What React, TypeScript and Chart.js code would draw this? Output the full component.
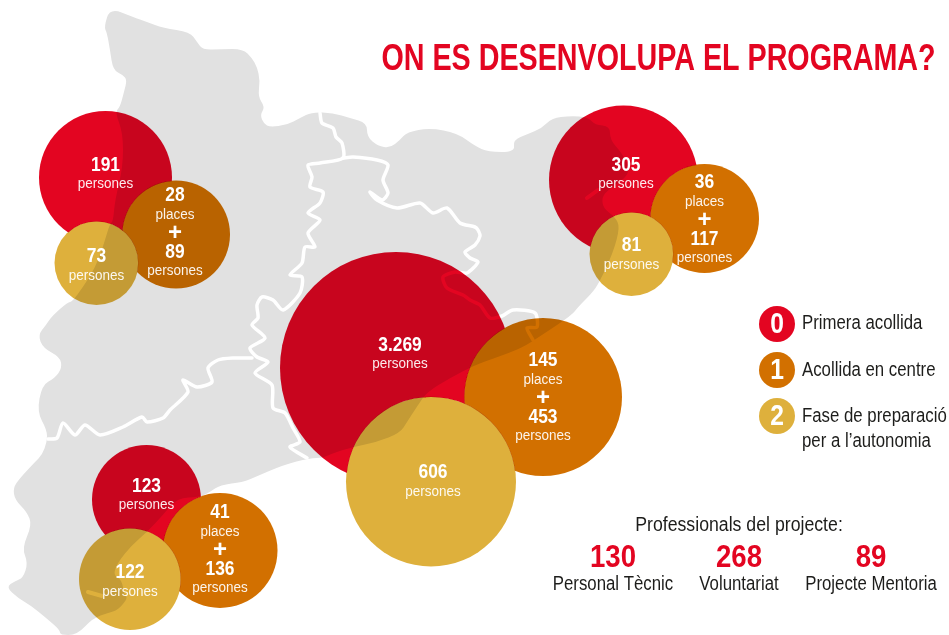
import React, { useEffect, useRef } from "react";
import { Chart, registerables } from "chart.js";

Chart.register(...registerables);

const titleText = "ON ES DESENVOLUPA EL PROGRAMA?";

// circles: [x, y, r] – the last of each list is the legend key
const firstReception = [[105.5, 177.5, 66.5], [623.5, 180, 74.5], [396, 368, 116], [146.5, 499.5, 54.5], [777, 324, 18]];
const centreReception = [[176, 234.5, 54], [704.5, 218.5, 54.5], [543, 397, 79], [220, 550.5, 57.5], [777, 370, 18]];
const autonomyPhase = [[96.5, 263, 42], [631.5, 254, 42], [431, 481.5, 85], [130, 579, 51], [777, 416, 18]];

const firstPersons = ["191", "305", "3.269", "123"];
const centrePlaces = ["28", "36", "145", "41"];
const centrePersons = ["89", "117", "453", "136"];
const autonomyPersons = ["73", "81", "606", "122"];

const legendDigits = ["0", "1", "2"];
const legendLabels = ["Primera acollida", "Acollida en centre", "Fase de preparació", "per a l’autonomia"];

const staffTitle = "Professionals del projecte:";
const staffValues = ["130", "268", "89"];
const staffLabels = ["Personal Tècnic", "Voluntariat", "Projecte Mentoria"];

// map outline
const mapOutline = [
  [110, 8], [133, 17], [147, 22], [163, 28], [190, 32], [197, 42], [203, 50], [222, 49], [243, 49], [252, 58], [257, 67], [260, 80], [258, 97], [265, 107], [260, 115], [264, 124], [270, 127], [287, 125], [300, 118], [312, 112],
  [333, 113], [350, 118], [367, 123], [367, 137], [378, 146], [390, 148], [400, 140], [407, 132], [430, 128], [457, 133], [475, 146], [488, 152], [515, 152], [513, 140], [528, 134], [542, 128], [552, 118], [570, 116], [588, 117],
  [595, 125], [610, 126], [610, 140], [622, 153], [632, 173], [608, 190], [602, 197], [603, 208], [615, 217], [620, 227], [613, 253], [599, 283], [592, 293], [578, 307], [572, 315], [542, 335], [522, 348], [495, 358], [475, 365], [450, 378], [427, 392], [418, 405], [407, 422], [400, 433], [377, 442], [353, 447], [333, 453], [323, 458], [310, 458], [283, 465], [253, 478], [243, 482], [220, 485], [210, 492], [200, 497], [177, 498], [163, 515], [147, 532], [132, 545], [118, 562], [113, 575], [122, 580], [124, 595], [128, 598], [118, 610], [108, 613], [93, 618], [77, 635],
  [60, 635], [60, 630], [45, 617], [30, 605], [18, 598], [6, 587], [15, 581], [23, 578], [28, 563], [22, 548], [32, 525], [27, 512], [15, 500], [13, 488], [20, 478], [35, 462], [42, 455], [47, 442], [47, 430], [37, 412], [42, 385], [55, 378], [62, 368], [60, 357], [43, 348], [38, 335], [46, 325], [52, 316],
  [68, 302], [72, 302], [83, 287], [95, 268], [103, 247], [110, 223], [113, 222], [115, 200], [123, 167], [123, 133], [115, 112], [120, 107], [124, 92], [127, 80], [123, 75], [113, 70], [110, 50], [107, 33], [104, 27],
];

// region borders
const borderNorthWest = [
  [320, 113], [322, 123], [333, 128], [336, 137], [342, 143], [343, 158], [320, 163], [308, 165], [312, 177], [310, 187], [323, 192], [320, 203], [308, 213], [320, 220], [308, 233], [315, 247], [305, 247], [302, 263], [290, 275], [302, 277], [300, 293], [283, 310], [273, 300], [262, 297], [257, 305], [258, 318], [252, 325], [265, 338], [250, 348], [257, 357], [268, 362], [255, 373], [272, 385], [273, 408], [285, 413], [293, 428], [300, 442], [290, 447], [307, 458],
];
const borderWest = [
  [252, 358], [233, 358], [218, 360], [208, 368], [212, 382], [197, 387], [183, 380], [188, 392], [170, 410], [163, 418], [147, 422], [142, 417], [123, 427], [100, 435], [85, 425], [75, 435], [63, 423], [57, 438], [48, 439],
];
const borderEast = [
  [343, 158], [353, 157], [377, 160], [388, 165], [383, 180], [388, 193], [382, 200], [370, 192], [377, 200], [397, 208], [420, 203], [433, 213], [447, 208], [460, 223], [475, 227], [478, 230], [480, 236], [475, 245], [465, 252], [470, 258], [478, 262], [467, 273], [455, 272], [443, 277], [447, 288], [463, 295], [470, 300], [480, 305], [490, 318], [502, 316], [513, 310], [535, 313], [537, 327], [527, 328], [533, 340],
];
const bayNorth = [[587, 198], [598, 190]];
const baySouth = [[88, 592], [102, 596]];

const RED = "#E30521";
const ORANGE = "#D27000";
const YELLOW = "#DEB03C";
const GREY = "#E1E1E1";
const FACE = '"Liberation Sans", sans-serif';

const toPoints = (rows: number[][]) => rows.map(([x, y]) => ({ x, y }));
const toBubbles = (rows: number[][]) => rows.map(([x, y, r]) => ({ x, y, r }));

const bubbleSet = (label: string, rows: number[][], color: string, order: number) => ({
  type: "bubble",
  label,
  data: toBubbles(rows),
  backgroundColor: color,
  borderWidth: 0,
  hoverBorderWidth: 0,
  order,
  clip: false,
});

const lineSet = (label: string, rows: number[][], color: string, width: number, order: number) => ({
  type: "line",
  label,
  data: toPoints(rows),
  borderColor: color,
  backgroundColor: color,
  borderWidth: width,
  borderCapStyle: "round",
  borderJoinStyle: "round",
  pointRadius: 0,
  tension: 0.25,
  fill: false,
  order,
  clip: false,
});

// draws each circle with multiply over the map, only where no later circle covers it
const blendPlugin = {
  id: "blend",
  beforeDatasetDraw(chart: any, args: any) {
    const ds = chart.data.datasets[args.index];
    const ctx = chart.ctx;
    if (ds.label === "map") {
      const pts = chart.getDatasetMeta(args.index).data;
      const n = pts.length;
      ctx.save();
      ctx.beginPath();
      ctx.moveTo((pts[n - 1].x + pts[0].x) / 2, (pts[n - 1].y + pts[0].y) / 2);
      pts.forEach((p: any, i: number) => {
        const q = pts[(i + 1) % n];
        ctx.quadraticCurveTo(p.x, p.y, (p.x + q.x) / 2, (p.y + q.y) / 2);
      });
      ctx.closePath();
      ctx.fillStyle = ds.backgroundColor;
      ctx.fill();
      ctx.restore();
      return false;
    }
    if (ds.type !== "bubble") return;
    ctx.save();
    ctx.globalCompositeOperation = "multiply";
    chart.data.datasets.forEach((other: any, i: number) => {
      if (other.type !== "bubble" || other.order >= ds.order) return;
      chart.getDatasetMeta(i).data.forEach((el: any, j: number) => {
        ctx.beginPath();
        ctx.rect(0, 0, chart.width, chart.height);
        ctx.arc(el.x, el.y, other.data[j].r - 0.4, 0, Math.PI * 2);
        ctx.clip("evenodd");
      });
    });
  },
  afterDatasetDraw(chart: any, args: any) {
    if (chart.data.datasets[args.index].type === "bubble") chart.ctx.restore();
  },
};

const textPlugin = {
  id: "texts",
  afterDatasetsDraw(chart: any) {
    const ctx = chart.ctx;
    // `squeeze` narrows the installed face to the condensed look of the original
    const put = (t: string, x: number, y: number, font: string, color: string, squeeze = 1, align = "center") => {
      ctx.font = font;
      ctx.fillStyle = color;
      ctx.textAlign = align;
      ctx.textBaseline = "middle";
      ctx.fillText(t, x, y, ctx.measureText(t).width * squeeze);
    };
    const num = `bold 20px ${FACE}`;
    const sub = `15.5px ${FACE}`;
    const NS = 0.87;
    const SS = 0.87;
    const pale = "rgba(255,255,255,0.92)";
    const at = (order: number) => {
      const i = chart.data.datasets.findIndex((d: any) => d.type === "bubble" && d.order === order);
      return chart.getDatasetMeta(i).data;
    };
    const reds = at(3), oranges = at(2), yellows = at(1);

    const redShift = [[0, -12], [2.5, -14.5], [4, -22.5], [0, -13]];
    firstPersons.forEach((v, i) => {
      const x = reds[i].x + redShift[i][0], y = reds[i].y + redShift[i][1];
      put(v, x, y, num, "#fff", NS);
      put("persones", x, y + 18.5, sub, pale, SS);
    });
    const orangeShift = [[-1, -39], [0, -36], [0, -36.5], [0, -38]];
    centrePlaces.forEach((v, i) => {
      const x = oranges[i].x + orangeShift[i][0], y = oranges[i].y + orangeShift[i][1];
      put(v, x, y, num, "#fff", NS);
      put("places", x, y + 19, sub, pale, SS);
      put("+", x, y + 37.5, `bold 24px ${FACE}`, "#fff");
      put(centrePersons[i], x, y + 56.5, num, "#fff", NS);
      put("persones", x, y + 75, sub, pale, SS);
    });
    const yellowShift = [[0, -6.5], [0, -8.5], [2, -9], [0, -6.5]];
    autonomyPersons.forEach((v, i) => {
      const x = yellows[i].x + yellowShift[i][0], y = yellows[i].y + yellowShift[i][1];
      put(v, x, y, num, "#fff", NS);
      put("persones", x, y + 19, sub, pale, SS);
    });

    [reds[4], oranges[4], yellows[4]].forEach((el: any, i: number) => put(legendDigits[i], el.x, el.y + 1, `bold 29px ${FACE}`, "#fff", 0.85));
    const ink = "#1d1d1b";
    const legFont = `20px ${FACE}`;
    const LS = 0.84;
    put(legendLabels[0], 802, reds[4].y - 0.5, legFont, ink, LS, "left");
    put(legendLabels[1], 802, oranges[4].y + 0.5, legFont, ink, LS, "left");
    put(legendLabels[2], 802, yellows[4].y + 0.5, legFont, ink, LS, "left");
    put(legendLabels[3], 802, yellows[4].y + 25.5, legFont, ink, LS, "left");

    ctx.font = `bold 37px ${FACE}`;
    ctx.fillStyle = RED;
    ctx.textAlign = "center";
    ctx.textBaseline = "middle";
    ctx.fillText(titleText, 658.5, 59.5, 554);
    put(staffTitle, 739, 525, `20px ${FACE}`, ink, 0.885);
    const cols = [613, 739, 871];
    staffValues.forEach((v, i) => put(v, cols[i], 558, `bold 31px ${FACE}`, RED, 0.89));
    staffLabels.forEach((v, i) => put(v, cols[i], 584, `20px ${FACE}`, ink, LS));
  },
};

export default function App() {
  const ref = useRef<HTMLCanvasElement>(null);
  useEffect(() => {
    const chart = new Chart(ref.current as any, {
      data: {
        datasets: [
          bubbleSet("Fase de preparació per a l’autonomia", autonomyPhase, YELLOW, 1),
          bubbleSet("Acollida en centre", centreReception, ORANGE, 2),
          bubbleSet("Primera acollida", firstReception, RED, 3),
          lineSet("bay north", bayNorth, "#fff", 4, 4),
          lineSet("bay south", baySouth, "#fff", 4, 4),
          lineSet("border east", borderEast, "#fff", 3.5, 5),
          lineSet("border west", borderWest, "#fff", 3.5, 5),
          lineSet("border north west", borderNorthWest, "#fff", 3.5, 5),
          lineSet("map", mapOutline, GREY, 0, 6),
        ] as any,
      },
      options: {
        responsive: false,
        animation: false,
        devicePixelRatio: 1,
        events: [],
        layout: { padding: 0, autoPadding: false },
        scales: {
          x: { type: "linear", min: 0, max: 949, display: false },
          y: { type: "linear", min: 0, max: 635, reverse: true, display: false },
        },
        plugins: { legend: { display: false }, tooltip: { enabled: false }, title: { display: false } },
      } as any,
      plugins: [blendPlugin, textPlugin] as any,
    } as any);
    return () => chart.destroy();
  }, []);
  return (
    <div style={{ position: "absolute", left: 0, top: 0, width: 949, height: 635, background: "#fff" }}>
      <canvas ref={ref} width={949} height={635} style={{ display: "block" }} />
    </div>
  );
}
